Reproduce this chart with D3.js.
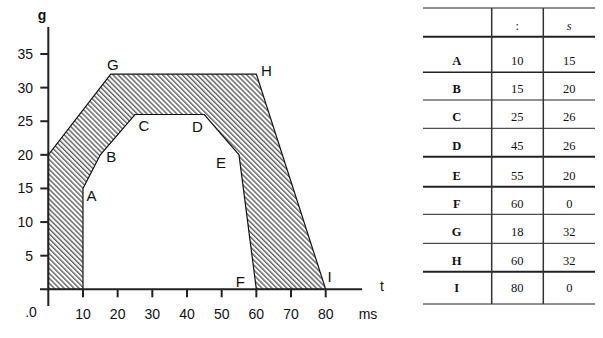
<!DOCTYPE html>
<html>
<head>
<meta charset="utf-8">
<script src="https://cdn.jsdelivr.net/npm/d3@7"></script>
<style>
  body { margin: 0; background: #fff; }
  svg { display: block; }
  .lab { font-family: "Liberation Sans", Arial, sans-serif; font-size: 14px; fill: #111; }
  .pl { font-family: "Liberation Sans", Arial, sans-serif; font-size: 15px; fill: #111; }
  .tbl { font-family: "Liberation Serif", "DejaVu Serif", serif; font-size: 12.5px; fill: #111; }
</style>
</head>
<body>
<svg id="chart" width="603" height="338"></svg>
<script>
// points from the table
const names = ["A", "B", "C", "D", "E", "F", "G", "H", "I"];
const tVals = [10, 15, 25, 45, 55, 60, 18, 60, 80];
const sVals = [15, 20, 26, 26, 20, 0, 32, 32, 0];

// shaded band: outer edge then inner edge back
const outerPath = [[0, 0], [0, 20], "G", "H", "I"];
const innerPath = ["F", "E", "D", "C", "B", "A", [10, 0]];

const xTicks = [10, 20, 30, 40, 50, 60, 70, 80];
const yTicks = [5, 10, 15, 20, 25, 30, 35];

// label centre offsets from each point (px)
const labelPos = {
  A: [8.5, 6.6], B: [11, 2], C: [9, 11], D: [-7, 12], E: [-18, 8],
  F: [-16, -8], G: [2, -10], H: [10, -4], I: [4, -13]
};

const svg = d3.select("#chart");
const x = d3.scaleLinear().domain([0, 80]).range([48.3, 325.7]);
const y = d3.scaleLinear().domain([0, 35]).range([289.3, 54]);

const pt = (p) => {
  if (typeof p === "string") {
    const i = names.indexOf(p);
    return [tVals[i], sVals[i]];
  }
  return p;
};

// hatching
const defs = svg.append("defs");
const pat = defs.append("pattern")
  .attr("id", "hatch")
  .attr("patternUnits", "userSpaceOnUse")
  .attr("width", 3.5).attr("height", 3.5)
  .attr("patternTransform", "rotate(45)");
pat.append("rect").attr("width", 3.5).attr("height", 3.5).attr("fill", "#fff");
pat.append("line")
  .attr("x1", 0).attr("y1", 1).attr("x2", 3.5).attr("y2", 1)
  .attr("stroke", "#444").attr("stroke-width", 1.2);

const poly = outerPath.concat(innerPath).map(pt);
const line = d3.line().x((d) => x(d[0])).y((d) => y(d[1]));
svg.append("path")
  .attr("d", line(poly) + "Z")
  .attr("fill", "url(#hatch)")
  .attr("stroke", "#111")
  .attr("stroke-width", 1.2);

// axes
svg.append("line")
  .attr("x1", x(-2.4)).attr("x2", x(90.5))
  .attr("y1", y(0)).attr("y2", y(0))
  .attr("stroke", "#222").attr("stroke-width", 2);
svg.append("line")
  .attr("x1", x(0)).attr("x2", x(0))
  .attr("y1", y(-2.5)).attr("y2", y(39))
  .attr("stroke", "#222").attr("stroke-width", 2);

for (const t of xTicks) {
  svg.append("line")
    .attr("x1", x(t)).attr("x2", x(t))
    .attr("y1", y(0)).attr("y2", y(0) + 8)
    .attr("stroke", "#222").attr("stroke-width", 2);
  svg.append("text").attr("class", "lab")
    .attr("x", x(t)).attr("y", 319)
    .attr("text-anchor", "middle")
    .text(t);
}
for (const v of yTicks) {
  svg.append("line")
    .attr("x1", x(0) - 8).attr("x2", x(0))
    .attr("y1", y(v)).attr("y2", y(v))
    .attr("stroke", "#222").attr("stroke-width", 2);
  svg.append("text").attr("class", "lab")
    .attr("x", 33).attr("y", y(v) + 5)
    .attr("text-anchor", "end")
    .text(v);
}
svg.append("text").attr("class", "lab").attr("x", 31).attr("y", 317)
  .attr("text-anchor", "middle").text(".0");
svg.append("text").attr("class", "lab").attr("x", 42).attr("y", 20)
  .attr("text-anchor", "middle").style("font-weight", "bold").text("g");
svg.append("text").attr("class", "lab").attr("x", 382).attr("y", 291)
  .attr("text-anchor", "middle").text("t");
svg.append("text").attr("class", "lab").attr("x", 368).attr("y", 319)
  .attr("text-anchor", "middle").text("ms");

// point labels
names.forEach((n, i) => {
  const [dx, dy] = labelPos[n];
  svg.append("text").attr("class", "pl")
    .attr("x", x(tVals[i]) + dx).attr("y", y(sVals[i]) + dy + 5.5)
    .attr("text-anchor", "middle")
    .text(n);
});

// table
const tblX0 = 423, tblX1 = 595;
const colX = [491.7, 543.3];
const colC = [456.7, 517.3, 569.3];
const rowLines = [8, 36.7, 72.3, 100, 128.3, 156.7, 186.7, 214.3, 243.3, 271.7, 304];
const rowW = [1, 2, 1.5, 1, 1, 2, 2, 1, 1, 2, 1];
const rowText = [26, 60.7, 88.3, 116.7, 145, 175, 203.3, 231.7, 260, 287.7];

rowLines.forEach((ry, i) => {
  svg.append("line")
    .attr("x1", tblX0).attr("x2", tblX1)
    .attr("y1", ry).attr("y2", ry)
    .attr("stroke", "#222").attr("stroke-width", rowW[i]);
});
for (const cx of colX) {
  svg.append("line")
    .attr("x1", cx).attr("x2", cx)
    .attr("y1", rowLines[0]).attr("y2", rowLines[rowLines.length - 1])
    .attr("stroke", "#333").attr("stroke-width", 1.5);
}
const header = ["", ":", "s"];
header.forEach((h, j) => {
  svg.append("text").attr("class", "tbl")
    .attr("x", colC[j]).attr("y", rowText[0] + 4)
    .attr("text-anchor", "middle")
    .style("font-style", j === 2 ? "italic" : null)
    .text(h);
});
names.forEach((n, i) => {
  const cells = [n, tVals[i], sVals[i]];
  cells.forEach((c, j) => {
    svg.append("text").attr("class", "tbl")
      .attr("x", colC[j]).attr("y", rowText[i + 1] + 4.5)
      .attr("text-anchor", "middle")
      .style("font-weight", j === 0 ? "bold" : "normal")
      .text(c);
  });
});
</script>
</body>
</html>
